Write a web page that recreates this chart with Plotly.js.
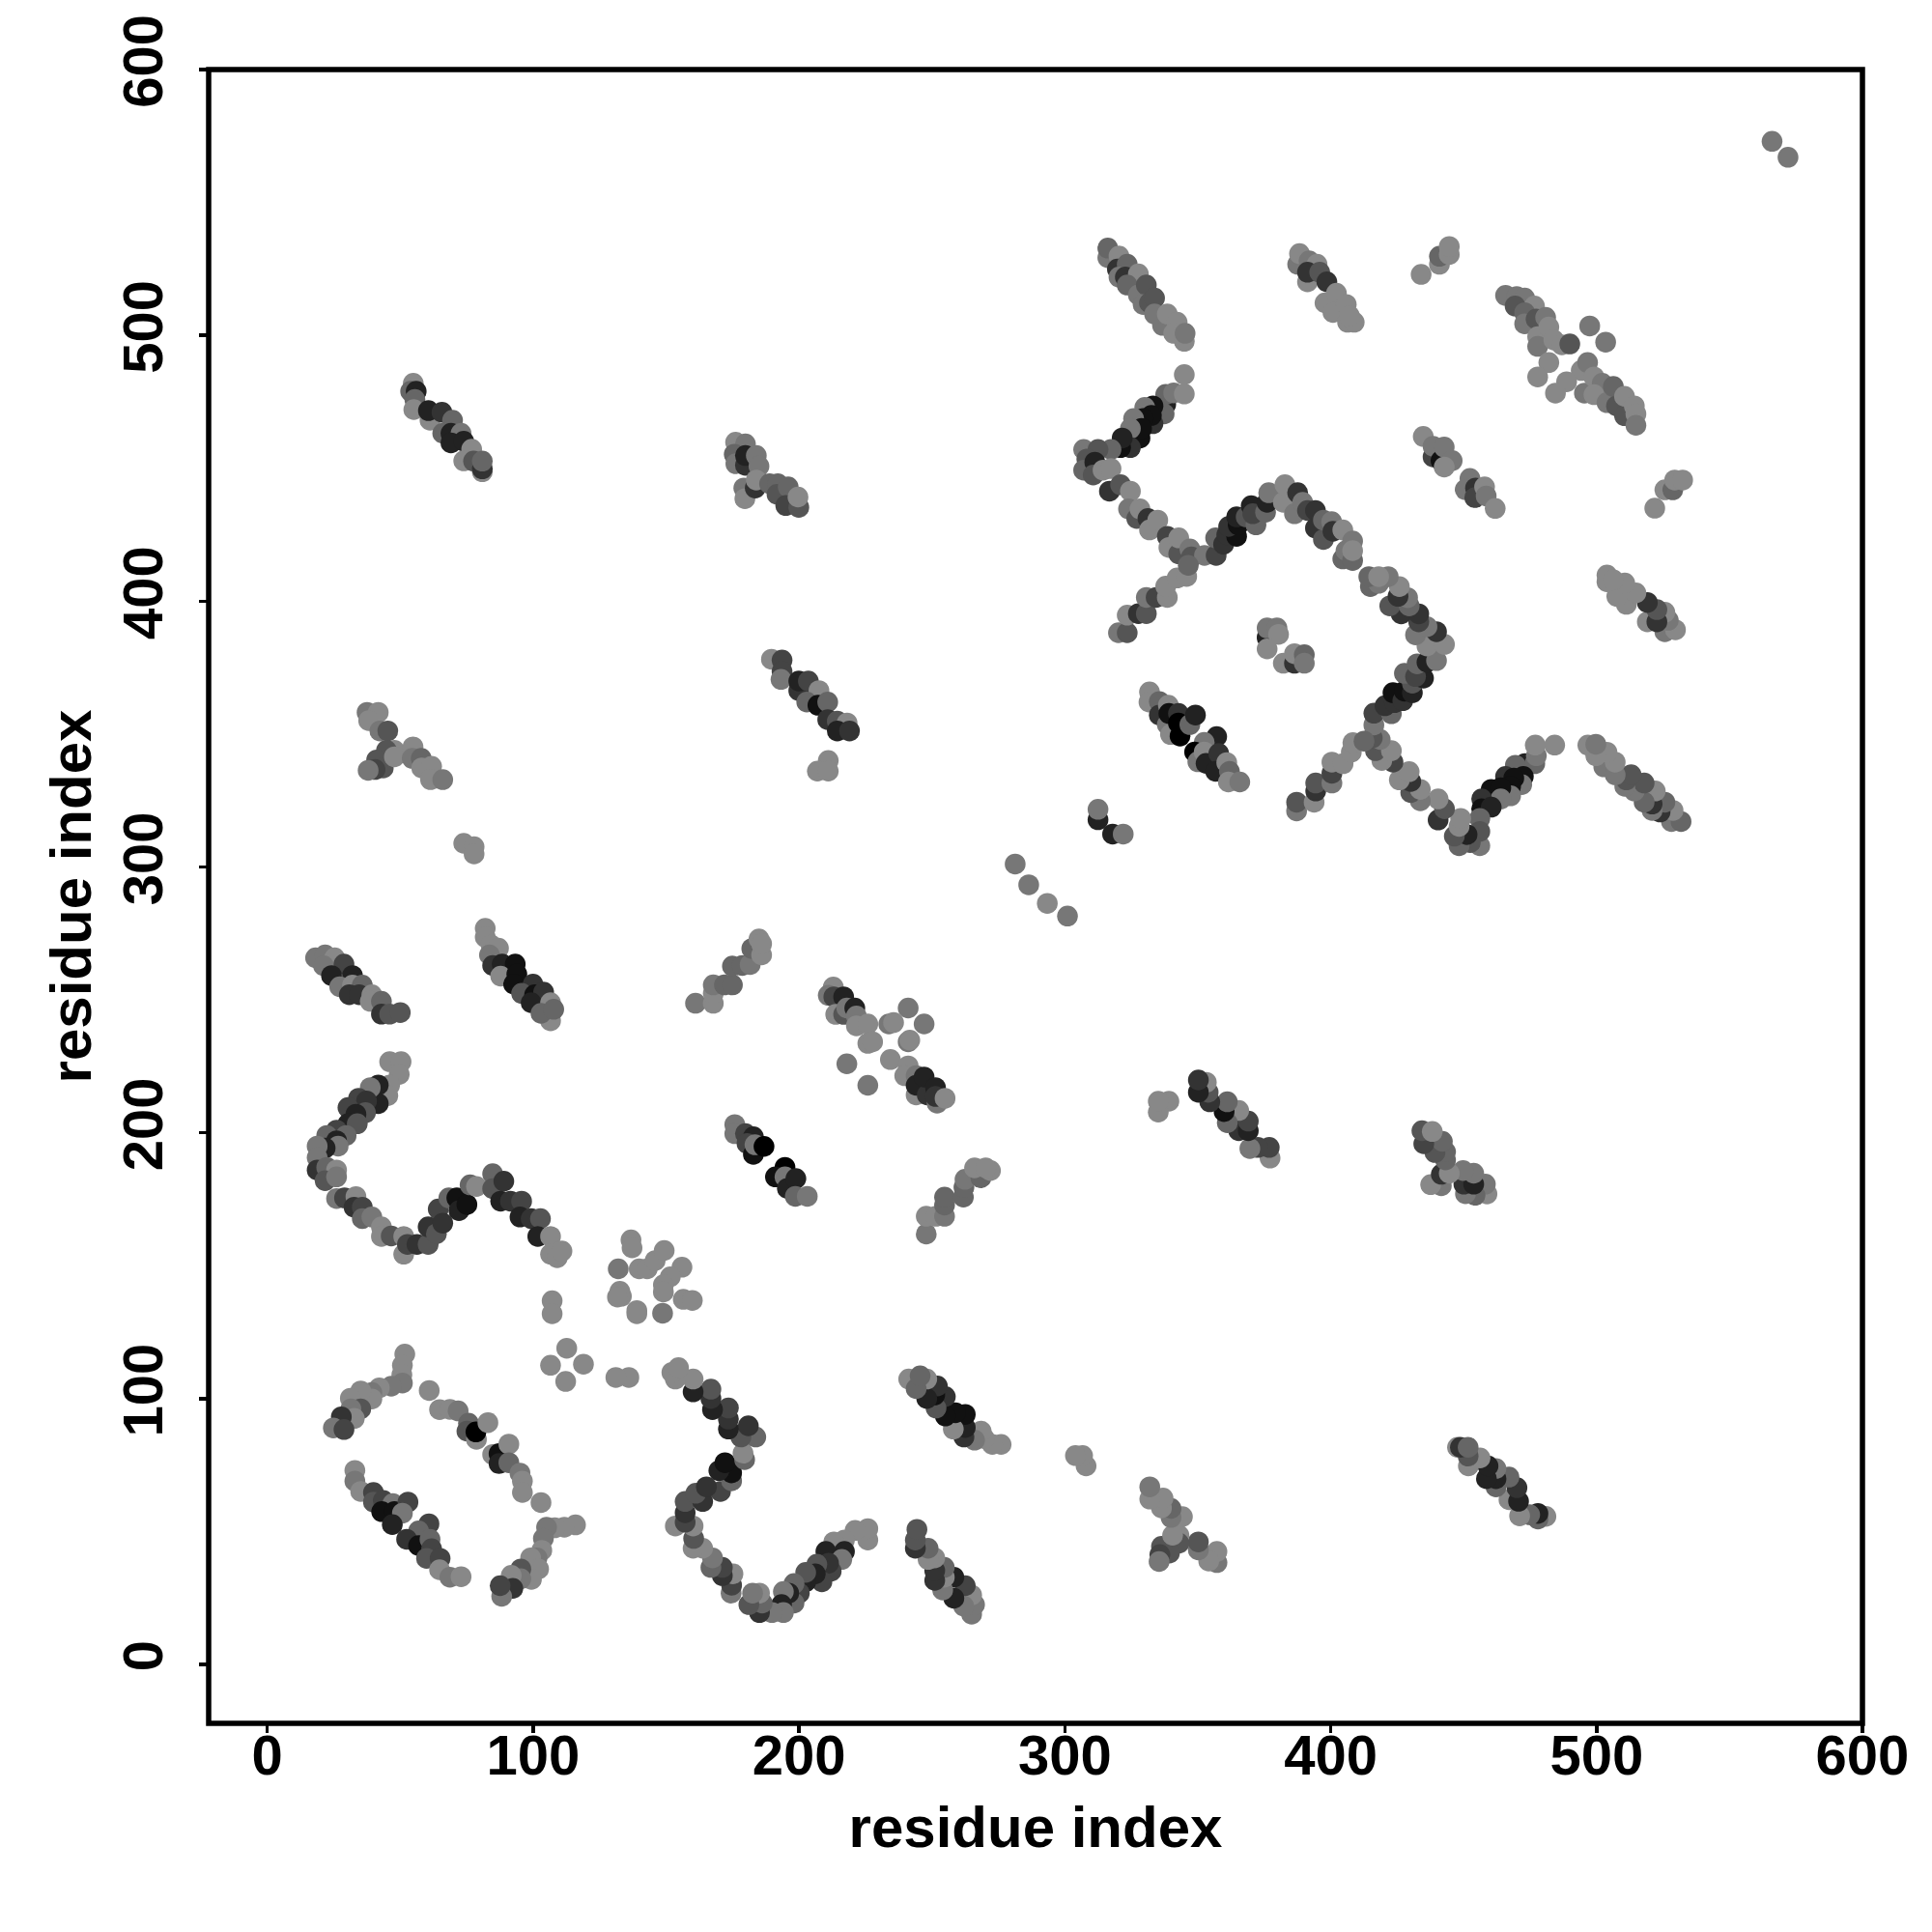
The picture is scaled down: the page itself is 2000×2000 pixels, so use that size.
<!DOCTYPE html>
<html>
<head>
<meta charset="utf-8">
<script src="https://cdn.plot.ly/plotly-3.0.1.min.js"></script>
<style>html,body{margin:0;padding:0;background:#fff}</style>
</head>
<body>
<div id="chart" style="width:2000px;height:2000px"></div>
<script>
// Each contact: [residue i, residue j, shade step 0 (black) .. 8 (mid grey)]
// The map is symmetric: contacts in "pairedBands" are also drawn at (j, i).
const hairpinLower = [[46.7,226.8,8],[51,226.8,8],[50.3,222,8],[46.7,218,8],[46,214,8],[42.4,218,2],[42.4,211,2],[39.4,217,7],[35,213,4],[38,212,3],[37.6,207.6,5],[31,209.5,4],[34,207,2],[31,203.4,2],[34.5,203.4,5],[26.7,201,4],[30.3,199,6],[23,199,6],[26.7,197,2],[27.3,195,7],[22.4,194.3,2],[19.4,195,7],[19.4,190.7,7],[19.4,186,3],[23,187,6],[26.7,186,8],[22.4,182,5],[26.7,183.4,7],[26.7,175.3,7],[29.7,175.5,4],[34,176,8],[33.3,172,3],[36.4,172,4],[36.4,167.7,6],[40,168.3,7],[43.6,164.6,8],[43.6,161,8],[47.3,161.2,5],[52,154.3,8],[52,161,8],[53.4,158,4],[57,158,3],[61.2,158,5],[61.2,164.6,3],[64.3,162,5],[65,171.3,4],[66.7,166,3],[69,175.5,6],[72,175.5,1],[72.8,170.7,2],[75.8,173,1],[77,180.4,6],[79.4,179.8,8],[85.5,184.6,6],[85.5,179,5],[89.7,181.8,3],[88.5,174.3,2],[92.2,174.3,3],[96.4,174.3,4],[95.8,168.3,2],[100,167.7,3],[103.5,167.7,5],[102.5,161,2],[107.3,161,8],[107.3,154.3,8],[109.8,153,8],[111.6,155.5,8]];
const bandNearAxis = [[52.4,116.7,8],[51.5,112.5,8],[51.3,108.9,8],[51.5,105.8,7],[47.3,104.6,7],[42.8,104,8],[40,102.2,7],[40,99.8,8],[35.8,102.8,8],[31.9,100.1,8],[35.8,96.1,5],[32.1,96.1,7],[33.4,92.5,8],[28.5,93.1,3],[25.5,88.9,7],[29.5,88.3,4],[107.9,136.8,8],[107.9,131.9,8]];
const clusterFar = [[38.2,358.3,7],[42.4,358.3,8],[38.8,355.2,8],[43,351.3,7],[46,351.3,5],[48.5,344,8],[45.5,344,5],[41.8,340.4,5],[44.3,337.4,5],[41.2,336.8,4],[38.6,336.5,7],[48.5,341.6,8],[55.5,345.3,8],[55.2,341,7],[58.6,341,6],[58.8,337.4,8],[62.5,338,8],[62.1,333,8],[66.7,333,7],[74.6,309,8],[78.5,307.7,8],[78.5,305,8]];
const bandA = [[18.8,265.9,7],[22.4,267,7],[26,265.9,8],[21.8,262.9,7],[29.5,263.5,4],[24.8,259.2,2],[32.7,259.2,2],[27.9,255,7],[32.7,255.6,8],[36.4,255.6,6],[31.5,252,3],[35.2,252,3],[40,252,8],[39.4,249.5,8],[43.6,249.5,6],[43.6,244.7,3],[46.7,244.7,5],[50.7,245.3,5]];
const bandB = [[82.7,277,8],[82.7,273.7,8],[84.9,270.7,8],[87.7,269.5,8],[84.3,267,7],[85.5,263,3],[89.1,263.5,2],[94,263.5,1],[88.5,259,8],[94.6,259.8,1],[93.4,256,1],[100.7,256,3],[96.4,252.5,5],[101.3,252,1],[104.7,253,3],[100,249,2],[107.3,242.2,8],[107.3,249,8],[103.7,245,6],[108.5,246.5,6]];
const bandC = [[55.6,482.2,8],[54.6,479.2,6],[56.7,479.2,2],[56.2,476.1,6],[55.8,472.3,8],[61.9,468.3,8],[61.3,471.9,2],[66.4,471.3,3],[70.4,468.3,6],[66.7,463.4,6],[69.8,463.4,2],[73.6,463.4,7],[69.8,459.8,2],[74.6,460.4,2],[77.6,457.4,8],[74.6,453,8],[78.3,452.9,5],[81.6,448.9,8],[81.6,450,3],[81.6,452.9,6]];
const bandD = [[177,460,8],[180.7,459.4,7],[176.5,455.5,6],[177.1,451.9,7],[180.7,451.3,3],[180.7,455,2],[184.8,455,7],[185.8,451,7],[180.1,442.8,7],[180.5,438.8,8],[184.4,442.8,3],[184.8,445.8,8],[189.8,444.4,6],[192.9,444.4,6],[192.6,440.4,5],[196.8,443.2,6],[195.9,436.2,4],[200.8,435.5,5],[200.5,439.4,8]];
const bandE = [[190.5,378.3,8],[194.5,378,4],[194.5,373.7,4],[194.1,370.7,7],[200.8,366.5,3],[200.8,370.1,2],[204.4,370.1,4],[208.4,366.5,8],[203.8,362.2,6],[208,361,1],[211.7,362.2,6],[211.7,355.6,3],[215.3,355,5],[219,354.3,8],[215.3,351.3,2],[219.9,351.3,3],[211.9,340.2,8],[207.8,336.2,8],[211.9,336.2,8]];
const bandF = [[161.9,248.8,7],[168.6,248.8,8],[168.6,252.5,8],[168.6,255.7,7],[172.8,255.7,6],[175.8,255.7,6],[175.8,262.8,6],[179.5,263,6],[182.5,263.4,7],[183.1,269.4,6],[186.8,267,8],[185.8,273,8],[186.8,271.2,8]];
const bandG = [[317.2,529.5,7],[317.2,533.1,6],[321.4,530.1,8],[320.8,525.2,3],[324.5,527,6],[321.4,522.2,7],[323.8,522.2,3],[328.7,523.4,8],[324.5,519.2,6],[328.7,515.5,7],[331.7,519.2,5],[330.5,511.9,7],[332.9,512.5,5],[334.8,514.3,5],[337.8,504,7],[334.8,508.3,7],[339.6,508.3,8],[343.3,505.2,8],[342,501,8],[346,498,8],[346.3,501,7]];
const bandH = [[388.7,527,7],[389.4,531,8],[393,528.3,7],[392.4,520.4,8],[396,527,8],[392.4,524,3],[397,524,5],[399.7,520.4,3],[399,512.5,8],[403.3,516.1,8],[402,508.9,8],[407,511.9,8],[407.5,505.2,8],[410,505.2,8],[408.2,507.6,8]];
const bandI = [[435.2,523.2,8],[442.1,527,8],[442.1,530,6],[445.8,530.7,8],[445.8,533.7,8]];
const waveUpper = [[346,485.5,8],[339,474.3,2],[338.4,470.7,6],[339,478,6],[342,478.6,7],[346,478.2,8],[334.2,467,3],[334.2,473.7,1],[331.1,473.1,7],[333.6,470.1,1],[330.5,468.9,1],[326.9,468.9,7],[329.3,461.6,1],[329.9,465.2,1],[325.7,465.2,7],[325.7,458,3],[322,458,1],[322.6,461.6,2],[318.4,457.3,6],[308.1,457.3,7],[313.5,457.3,5],[309.3,453.7,5],[308.1,449.5,6],[312.3,452.5,2],[311.7,447.7,5],[315.4,449.5,8],[318.4,450.1,8],[317.8,441.6,3],[322,444,5],[325.7,441.6,8],[325,434.9,7],[328.1,431.3,5],[329.3,434.9,8],[332.3,431.3,3],[332.9,427,8],[336,430.7,8],[339.6,424.6,4],[340.2,420.4,8],[343.9,418,5],[343.9,424,8],[348.1,419.8,7],[348.7,416.8,5],[353.6,417.4,7],[358,417.4,4],[357.8,424,6],[360.8,421.6,3],[362,425.2,3],[365.7,424.6,1],[362.7,428.3,3],[366.3,428.9,1],[365.7,431.9,2],[369.3,431.9,5],[373,428.9,6],[371.2,436.1,2],[371.8,433.1,4],[376.6,433.7,6],[377.2,437.4,2],[377.8,441,7],[383.3,437.4,8],[383.9,444,8],[387.5,433.1,7],[388.7,441,3],[390.6,437.4,7],[392.4,434.3,4],[395.4,427.7,3],[395.4,434.3,3],[398.4,423.4,5],[398.4,430.7,6],[401.5,430.1,7],[402,426.5,3],[405.7,416.1,6],[405.7,427,8],[406.9,419.2,7],[409.4,415.5,6],[409.4,422.8,7],[409.4,419.2,8]];
const bandJ = [[321.2,388.3,7],[324.5,388.3,5],[324.5,394.9,8],[328.7,395.5,3],[331.7,395.5,5],[331.7,401.6,7],[335.4,401.6,4],[339.6,401.6,8],[339,405.8,8],[343.3,408.9,8],[346.9,409.5,8],[347.5,413.7,6]];
const pairedBands = [hairpinLower,bandNearAxis,clusterFar,bandA,bandB,bandC,bandD,bandE,bandF,bandG,bandH,bandI,waveUpper,bandJ];

// Contacts straddling the diagonal, read in full: drawn once, as they are.
const crossLow = [[33.6,72.9,8],[33.6,68.9,7],[35.8,65,8],[40.6,64.6,4],[40.6,61,5],[44.3,61.6,4],[47.9,60.4,7],[43.7,57.4,1],[48.5,57.4,1],[53.6,61,4],[51.5,56.8,7],[47.7,52.5,2],[61.5,52.8,4],[57.6,50.1,6],[53.1,47,3],[57.6,44.6,1],[61.9,47,6],[62.5,43.4,4],[60.6,39.8,5],[65.7,39.8,4],[65.5,35.5,8],[69.4,32.7,7],[73.6,32.9,8]];
const chainLow = [[61.6,103,8],[65.5,95.8,8],[69.4,95.9,8],[72.5,95.3,7],[76.4,90.7,6],[75.8,87.7,5],[79.4,84.6,8],[79.2,87.4,0],[83.7,90.9,8],[85.5,78.9,8],[87.9,79.2,1],[91.6,82.8,8],[87.9,75.5,2],[91.6,75.8,6],[95.8,71.9,7],[96.7,68.9,8],[96.7,64.6,8],[103.7,60.8,8]];
const quartet = [[113.4,118.9,8],[107.3,112.5,8],[119.7,112.9,8],[113,106.4,8]];
const centre = [[137.6,159.7,8],[138,156.7,8],[132.8,148.8,7],[140.7,148.8,8],[143.7,148.8,8],[146.7,151.9,8],[150.1,155.7,8],[156.8,149.4,8],[152.4,145.8,8],[149.8,142.8,8],[149.8,140.1,8],[133.4,140.3,8],[134,138.5,8],[132.5,138.2,8],[139.8,133.1,8],[139.8,131.9,8],[149.5,132.1,7],[157.3,137.3,8],[160.7,136.9,8]];
const blackPatch = [[176.7,203.1,7],[176.7,199.7,7],[180.7,199.7,4],[183.7,198.5,2],[181.3,196,4],[183.7,191.9,1],[184.3,195.5,7],[187.7,194.9,0],[195.6,187,0],[192,183.4,1],[195.6,183.4,7],[196.5,179.1,2],[199.7,182.8,2],[199.5,176.1,6],[204,176.1,7]];
const crossMid = [[213.8,254.9,8],[211.9,251.8,7],[214,251.2,4],[217.7,251.2,2],[214.7,244.6,8],[217.7,244.6,5],[218.9,247,7],[221.9,247,2],[222.5,244,7],[222.5,240.3,8],[226.8,241,8],[226.8,233.7,8],[228.6,234.3,8],[234.7,241,7],[236.5,241.5,8],[242,247,7],[248,241,7],[242,234.3,7],[242.6,234.9,8],[235.3,227.6,8],[218.9,226,7],[226.8,217.9,7],[242,225.2,8],[240.7,221.5,8],[245,221.5,7],[245,214.3,8],[245,217.9,2],[249.2,214.3,3],[248,221,2],[252.3,217,2],[252.9,211.2,7],[252.3,213.7,3],[255.9,213,8]];
const diagonalRun = [[282.3,301.2,7],[287.4,293.4,7],[294.4,286.4,8],[302,281.6,7],[313.5,317.9,2],[313.5,321.8,7],[319,312.5,2],[323,312.5,7]];
const crossHigh = [[332.9,366,8],[332.7,362.2,8],[336.6,362.4,6],[336.6,357.3,3],[340,361,8],[339.6,353.7,7],[340.8,350,8],[340.2,357.9,1],[344.4,349.4,0],[343.8,357.9,3],[343.8,354.3,0],[348.1,353.7,6],[350.2,357.3,2],[358.2,349.2,2],[353.5,347,7],[349.9,343.4,0],[351.1,339.7,7],[353.5,343.4,8],[354.2,339.1,2],[359,342.8,3],[357.8,336.1,2],[362,339.4,8],[363,336.1,6],[362.6,332.1,8],[366.9,332.1,7]];
const patchCentre = [[377.2,386.5,2],[377.2,390.1,7],[380.9,390.1,7],[381.5,387.7,8],[377.2,382.2,8],[383.3,376.8,8],[387.5,376.8,3],[387.5,380.4,8],[391.2,380,6],[391.2,376.8,7]];
const patchRight = [[436,462.2,8],[439.7,454.5,4],[439.7,458.5,7],[442.7,453.1,1],[443.9,458.2,7],[446.9,453.1,7],[443.9,450.7,8],[453.6,446.4,7],[451.8,442.2,7],[455.7,442.8,3],[455.4,439.2,4],[459.1,443.2,8],[459.7,439.8,7],[463.1,435.1,8]];
const crossTop = [[467,515.3,7],[471.2,514.9,7],[474.2,514.3,7],[470.6,511.3,5],[477.9,511.3,8],[474.2,508.8,6],[474.2,504.6,7],[478.5,506.4,5],[482.1,507,7],[479.1,499.8,8],[483.3,503.4,8],[479.1,496.1,7],[485.2,498.5,8],[488.2,496.7,8],[491.2,497,5],[483.3,490,8],[479.1,484.6,8],[498.7,503.8,7],[504.7,497.7,7],[495.5,487,8],[497.9,490,7],[490,482.8,8],[485.8,478.5,8],[496.7,478.5,7],[500.3,484.6,8],[503.4,482.2,7],[500.3,477.9,8],[505.2,474.9,7],[507.6,481,6],[508.8,473.7,5],[511.8,470,5],[511.8,477.3,8],[515.5,473.7,8],[516.1,470.7,8],[516.1,466.4,7]];
const diagonalBands = [crossLow,chainLow,quartet,centre,blackPatch,crossMid,diagonalRun,crossHigh,patchCentre,patchRight,crossTop];
const farCorner = [[566,573,7],[572,567,7]];

const xTicks = [0,100,200,300,400,500,600];
const yTicks = [0,100,200,300,400,500,600];
const axisLabel = 'residue index';

// The readings above were taken with a provisional scale; these refine them to the axes.
const refineX = v => 0.99866*v - 0.618;
const refineY = v => 0.99927*v + 0.109;

const xs = [], ys = [], colors = [];
function grey(step){ const v = step*17; return 'rgb('+v+','+v+','+v+')'; }
function add(a,b,s){ xs.push(a); ys.push(b); colors.push(grey(s)); }
pairedBands.forEach(band => band.forEach(p => add(refineX(p[0]),refineY(p[1]),p[2])));
pairedBands.forEach(band => band.forEach(p => add(refineX(p[1]),refineY(p[0]),p[2])));
diagonalBands.forEach(band => band.forEach(p => add(refineX(p[0]),refineY(p[1]),p[2])));
farCorner.forEach(p => add(p[0],p[1],p[2]));

const tickFont = {family:'"Liberation Sans", Arial, sans-serif', size:58, color:'#000', weight:700};
const titleFont = {family:'"Liberation Sans", Arial, sans-serif', size:60, color:'#000', weight:700};
const axisCommon = {
  showline:false, ticks:'outside', ticklen:9, tickwidth:3.5, tickcolor:'#000',
  showgrid:false, zeroline:false, tickmode:'array',
  tickfont:tickFont, automargin:false
};
Plotly.newPlot('chart',[{
  type:'scatter', mode:'markers', x:xs, y:ys,
  marker:{size:21.5, color:colors, line:{width:0}}, cliponaxis:false, hoverinfo:'skip'
}],{
  width:2000, height:2000, paper_bgcolor:'#fff', plot_bgcolor:'#fff', showlegend:false,
  margin:{l:216,r:72.3,t:71.7,b:216,pad:0},
  xaxis:Object.assign({},axisCommon,{range:[-22.06,600],tickvals:xTicks,ticktext:xTicks.map(String),ticklabelstandoff:-27,
    title:{text:axisLabel,font:titleFont,standoff:22}}),
  yaxis:Object.assign({},axisCommon,{range:[-22.2,600],tickvals:yTicks,ticktext:yTicks.map(String),tickangle:-90,ticklabelstandoff:15,
    title:{text:axisLabel,font:titleFont,standoff:0}}),
  shapes:[{type:'rect',xref:'paper',yref:'paper',x0:0,x1:1,y0:0,y1:1,line:{color:'#000',width:5.5},fillcolor:'rgba(0,0,0,0)',layer:'above'}]
},{staticPlot:true,displayModeBar:false});
</script>
</body>
</html>
